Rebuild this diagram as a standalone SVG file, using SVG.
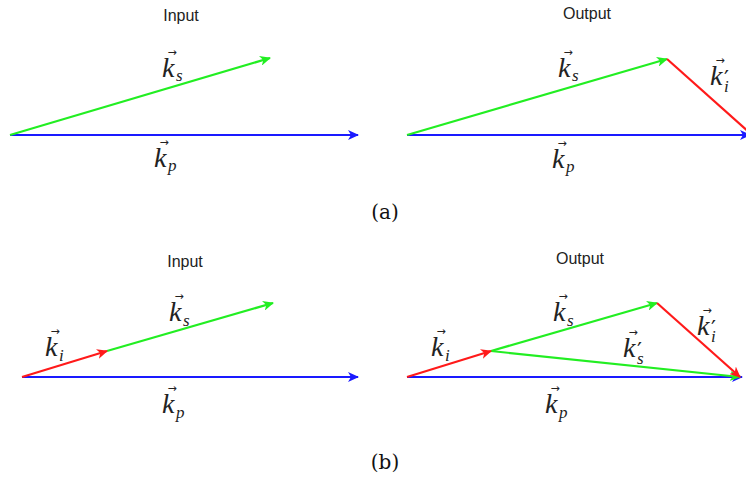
<svg xmlns="http://www.w3.org/2000/svg" width="746" height="480" viewBox="0 0 746 480">
<style>
.t{font-family:"Liberation Sans",Arial,sans-serif;font-size:16px;fill:#222;text-anchor:middle}
.cap{font-family:"DejaVu Serif","Liberation Serif",serif;font-size:20px;fill:#111;text-anchor:middle}
.m{font-family:"Liberation Serif","Times New Roman",serif;font-style:italic;font-size:28px;fill:#222}
.s{font-family:"Liberation Serif","Times New Roman",serif;font-style:italic;font-size:17px;fill:#222}
.v{font-family:"DejaVu Sans",sans-serif;font-size:11px;fill:#222;text-anchor:middle}
.p{font-family:"DejaVu Sans",sans-serif;font-size:22px;fill:#222}
.b{stroke:#1a1aff;stroke-width:2.2;fill:none}
.g{stroke:#22ee22;stroke-width:2.2;fill:none}
.r{stroke:#ff1a1a;stroke-width:2.2;fill:none}
</style>
<defs>
<marker id="ab" markerWidth="12" markerHeight="10" refX="10" refY="5" orient="auto" markerUnits="userSpaceOnUse"><path d="M0,0 L11,5 L0,10 L3,5 Z" fill="#1a1aff"/></marker>
<marker id="ag" markerWidth="12" markerHeight="10" refX="10" refY="5" orient="auto" markerUnits="userSpaceOnUse"><path d="M0,0 L11,5 L0,10 L3,5 Z" fill="#22ee22"/></marker>
<marker id="ar" markerWidth="12" markerHeight="10" refX="10" refY="5" orient="auto" markerUnits="userSpaceOnUse"><path d="M0,0 L11,5 L0,10 L3,5 Z" fill="#ff1a1a"/></marker>
</defs>
<g id="connectors">
<line class="b" x1="10" y1="135" x2="358" y2="135" marker-end="url(#ab)"/>
<line class="g" x1="10" y1="135" x2="270" y2="58" marker-end="url(#ag)"/>
<line class="b" x1="407" y1="135" x2="750" y2="135" marker-end="url(#ab)"/>
<line class="g" x1="407" y1="135" x2="667" y2="59" marker-end="url(#ag)"/>
<line class="r" x1="667" y1="59" x2="750" y2="133"/>
<line class="b" x1="22" y1="377" x2="358" y2="377" marker-end="url(#ab)"/>
<line class="g" x1="107" y1="351" x2="273" y2="303" marker-end="url(#ag)"/>
<line class="r" x1="22" y1="377" x2="107" y2="351" marker-end="url(#ar)"/>
<line class="b" x1="407" y1="377" x2="742" y2="377" marker-end="url(#ab)"/>
<line class="g" x1="491" y1="351" x2="657" y2="303" marker-end="url(#ag)"/>
<line class="g" x1="491" y1="351" x2="740" y2="377" marker-end="url(#ag)"/>
<line class="r" x1="657" y1="303" x2="740" y2="377" marker-end="url(#ar)"/>
<line class="r" x1="407" y1="377" x2="491" y2="351" marker-end="url(#ar)"/>
</g>
<g id="panel-a-input">
<text class="t" x="181" y="21">Input</text>
<g id="a-in-ks"><text class="m" x="162" y="77">k</text><text class="v" x="172" y="56">→</text><text class="s" x="176" y="81">s</text></g>
<g id="a-in-kp"><text class="m" x="154" y="167">k</text><text class="v" x="164" y="146">→</text><text class="s" x="168" y="171">p</text></g>
</g>
<g id="panel-a-output">
<text class="t" x="587" y="19">Output</text>
<g id="a-out-ks"><text class="m" x="558" y="77">k</text><text class="v" x="568" y="56">→</text><text class="s" x="572" y="81">s</text></g>
<g id="a-out-ki"><text class="m" x="710" y="85">k</text><text class="v" x="720" y="64">→</text><text class="p" x="724" y="86">′</text><text class="s" x="724" y="92">i</text></g>
<g id="a-out-kp"><text class="m" x="552" y="168">k</text><text class="v" x="562" y="147">→</text><text class="s" x="566" y="172">p</text></g>
</g>
<g id="panel-b-input">
<text class="t" x="185" y="267">Input</text>
<g id="b-in-ki"><text class="m" x="45" y="356">k</text><text class="v" x="55" y="335">→</text><text class="s" x="59" y="361">i</text></g>
<g id="b-in-ks"><text class="m" x="169" y="321">k</text><text class="v" x="179" y="300">→</text><text class="s" x="183" y="326">s</text></g>
<g id="b-in-kp"><text class="m" x="162" y="413">k</text><text class="v" x="172" y="392">→</text><text class="s" x="176" y="418">p</text></g>
</g>
<g id="panel-b-output">
<text class="t" x="580" y="264">Output</text>
<g id="b-out-ki"><text class="m" x="431" y="356">k</text><text class="v" x="441" y="335">→</text><text class="s" x="445" y="361">i</text></g>
<g id="b-out-ks"><text class="m" x="553" y="321">k</text><text class="v" x="563" y="300">→</text><text class="s" x="567" y="326">s</text></g>
<g id="b-out-ks2"><text class="m" x="623" y="357">k</text><text class="v" x="633" y="336">→</text><text class="p" x="637" y="358">′</text><text class="s" x="637" y="364">s</text></g>
<g id="b-out-ki2"><text class="m" x="697" y="335">k</text><text class="v" x="707" y="314">→</text><text class="p" x="711" y="336">′</text><text class="s" x="711" y="342">i</text></g>
<g id="b-out-kp"><text class="m" x="545" y="413">k</text><text class="v" x="555" y="392">→</text><text class="s" x="559" y="418">p</text></g>
</g>
<g id="captions">
<text class="cap" x="385" y="219">(a)</text>
<text class="cap" x="385" y="469">(b)</text>
</g>
</svg>
